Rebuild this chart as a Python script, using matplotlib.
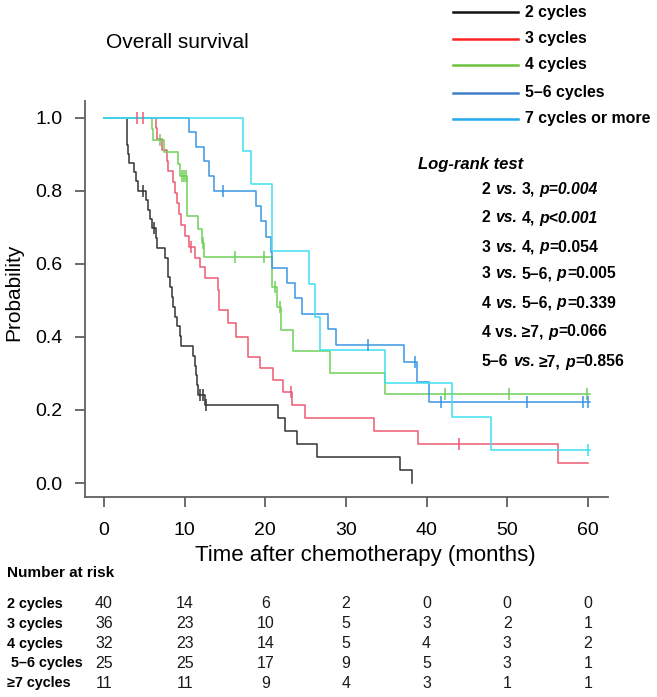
import matplotlib
matplotlib.use('Agg')
import matplotlib.pyplot as plt
import numpy as np
from matplotlib.lines import Line2D
from matplotlib.transforms import blended_transform_factory

plt.rcParams['font.family'] = ['Liberation Sans', 'DejaVu Sans']

# ---------------- data ----------------
group_labels = ['2 cycles', '3 cycles', '4 cycles', '5–6 cycles', '7 cycles or more']
risk_row_labels = ['2 cycles', '3 cycles', '4 cycles', ' 5–6 cycles', '≥7 cycles']

# event times (months) and survival after each event
t_2 = [2.8, 2.85, 2.9, 3.0, 3.05, 3.7, 4.0, 4.2, 5.2, 5.4, 5.7, 5.9, 6.5, 6.6, 7.6, 7.9,
       8.0, 8.2, 8.4, 8.6, 8.8, 9.0, 9.4, 9.6, 11.1, 11.25, 11.4, 11.55, 11.7, 12.5, 21.6,
       22.4, 23.9, 26.4, 36.7, 38.2]
s_2 = [0.975, 0.95, 0.925, 0.90, 0.875, 0.85, 0.825, 0.80, 0.774, 0.748, 0.723, 0.697,
       0.670, 0.643, 0.616, 0.589, 0.563, 0.536, 0.509, 0.482, 0.455, 0.429, 0.402, 0.375,
       0.348, 0.321, 0.295, 0.268, 0.241, 0.213, 0.178, 0.142, 0.107, 0.071, 0.036, 0.0]
c_2 = [4.8, 6.2, 11.9, 12.3, 12.7]
end_2 = 38.2

t_3 = [6.5, 6.6, 7.2, 7.8, 8.0, 8.6, 8.8, 9.1, 9.3, 9.6, 10.0, 10.5, 11.3, 11.9, 12.5,
       14.1, 14.3, 15.4, 16.4, 17.9, 19.3, 20.9, 22.2, 23.3, 24.9, 33.5, 39.0, 56.3]
s_3 = [0.971, 0.941, 0.912, 0.882, 0.853, 0.824, 0.794, 0.765, 0.735, 0.706, 0.676,
       0.647, 0.616, 0.592, 0.561, 0.528, 0.473, 0.437, 0.400, 0.346, 0.314, 0.282,
       0.250, 0.213, 0.177, 0.142, 0.107, 0.055]
c_3 = [4.1, 4.8, 10.8, 23.2, 44.0]
end_3 = 60.0

t_4 = [5.9, 6.1, 7.4, 9.2, 9.4, 10.3, 10.3, 10.3, 11.6, 12.1, 12.4, 20.8, 20.8, 21.4,
       21.9, 23.5, 28.0, 34.9]
s_4 = [0.969, 0.9375, 0.905, 0.873, 0.841, 0.805, 0.768, 0.731, 0.694, 0.658, 0.619,
       0.575, 0.537, 0.482, 0.420, 0.362, 0.302, 0.243]
c_4 = [6.9, 9.7, 9.95, 10.15, 12.3, 16.3, 19.8, 21.2, 21.8, 42.3, 50.2, 59.9]
end_4 = 60.3

t_56 = [10.5, 11.4, 12.4, 13.0, 13.6, 18.9, 19.5, 20.1, 20.7, 20.8, 22.7, 23.7, 24.5,
        27.8, 28.8, 37.2, 38.8, 40.3]
s_56 = [0.96, 0.92, 0.88, 0.84, 0.80, 0.758, 0.716, 0.674, 0.632, 0.589, 0.547, 0.505,
        0.463, 0.421, 0.379, 0.332, 0.277, 0.222]
c_56 = [14.7, 32.7, 38.6, 41.8, 52.5, 59.4, 60.0]
end_56 = 60.3

t_7 = [17.3, 18.2, 20.8, 20.8, 25.4, 26.2, 26.8, 34.9, 43.2, 48.0]
s_7 = [0.909, 0.818, 0.727, 0.636, 0.545, 0.455, 0.364, 0.273, 0.182, 0.091]
c_7 = [60.0]
end_7 = 60.3

risk_times = [0, 10, 20, 30, 40, 50, 60]
risk_2 = [40, 14, 6, 2, 0, 0, 0]
risk_3 = [36, 23, 10, 5, 3, 2, 1]
risk_4 = [32, 23, 14, 5, 4, 3, 2]
risk_56 = [25, 25, 17, 9, 5, 3, 1]
risk_7 = [11, 11, 9, 4, 3, 1, 1]

curve_colors = ['#333333', '#ee5a72', '#6fd05a', '#3a96e6', '#3fe0f0']
legend_colors = ['#111111', '#ff2222', '#6cc23a', '#3f7fc8', '#22aaee']

logrank_title = 'Log-rank test'
# (text, italic, gap-before in em)
logrank_lines = [
    [('2', 0, 0), ('vs.', 1, 0.278), ('3,', 0, 0.278), ('p=0.004', 1, 0.278)],
    [('2', 0, 0), ('vs.', 1, 0.278), ('4,', 0, 0.278), ('p<0.001', 1, 0.278)],
    [('3', 0, 0), ('vs.', 1, 0.278), ('4,', 0, 0.278), ('p', 1, 0.278), ('=0.054', 0, 0.04)],
    [('3', 0, 0), ('vs.', 1, 0.278), ('5–6,', 0, 0.278), ('p', 1, 0.278), ('=0.005', 0, 0.04)],
    [('4', 0, 0), ('vs.', 1, 0.278), ('5–6,', 0, 0.278), ('p', 1, 0.278), ('=0.339', 0, 0.04)],
    [('4 vs. ≥7,', 0, 0), ('p', 1, 0.278), ('=0.066', 0, 0.04)],
    [('5–6', 0, 0), ('vs.', 1, 0.278), ('≥7,', 0, 0.278), ('p', 1, 0.278), ('=0.856', 0, 0.04)],
]

# ---------------- figure ----------------
W, H = 657, 697
fig = plt.figure(figsize=(W / 100, H / 100), dpi=100)


def fx(px):
    return px / W


def fy(py):
    return 1 - py / H


ax = fig.add_axes([fx(85), fy(497), fx(608) - fx(85), fy(100.7) - fy(497)])
ax.set_xlim(-2.35, 62.5)
ax.set_ylim(-0.038, 1.046)

groups = [(t_2, s_2, c_2, end_2), (t_3, s_3, c_3, end_3), (t_4, s_4, c_4, end_4),
          (t_56, s_56, c_56, end_56), (t_7, s_7, c_7, end_7)]

for (t, s, c, end), col in zip(groups, curve_colors):
    tt = np.r_[0.0, t, end]
    ss = np.r_[1.0, s, s[-1]]
    ax.step(tt, ss, where='post', color=col, lw=1.1, zorder=3)
    ta = np.asarray(t)
    sa = np.r_[1.0, s]
    idx = np.searchsorted(ta, np.asarray(c), side='right')
    ax.plot(c, sa[idx], ls='none', marker='|', ms=8, mew=1.1, color=col, zorder=4)

for side in ['top', 'right']:
    ax.spines[side].set_visible(False)
for side in ['left', 'bottom']:
    ax.spines[side].set_color('#606060')
    ax.spines[side].set_linewidth(1.3)

ax.set_xticks(risk_times)
ax.set_yticks([0, 0.2, 0.4, 0.6, 0.8, 1.0])
ax.set_yticklabels(['0.0', '0.2', '0.4', '0.6', '0.8', '1.0'])
ax.tick_params(axis='both', length=7.5, width=1.3, color='#606060', labelsize=14)
ax.tick_params(axis='x', pad=10.5)
ax.tick_params(axis='y', pad=8.6)

fig.text(fx(14), fy(292), 'Probability', rotation=90, ha='center', va='center', fontsize=15)
fig.text(fx(365.5), fy(555), 'Time after chemotherapy (months)', ha='center', va='center',
         fontsize=16)
fig.text(fx(177), fy(42), 'Overall survival', ha='center', va='center', fontsize=15)

# legend
leg_y = [12, 39, 65, 93, 119]
for lab, col, y in zip(group_labels, legend_colors, leg_y):
    fig.add_artist(Line2D([fx(453), fx(518)], [fy(y), fy(y)], transform=fig.transFigure,
                          color=col, lw=1.8))
    fig.text(fx(525), fy(y), lab, ha='left', va='center', fontsize=11.4, fontweight='bold')

# log-rank text
fig.text(fx(418), fy(165), logrank_title, ha='left', va='center', fontsize=12,
         fontweight='bold', style='italic')
lr_y = [189, 218, 247, 274, 303, 332, 362]
size = 11.3
for segs, y in zip(logrank_lines, lr_y):
    prev = None
    for txt, it, gap in segs:
        st = 'italic' if it else 'normal'
        if prev is None:
            prev = fig.text(fx(482), fy(y), txt, ha='left', va='center', fontsize=size,
                            fontweight='bold', style=st)
        else:
            prev = ax.annotate(txt, xy=(1, 0), xycoords=prev, xytext=(gap * size, 0),
                               textcoords='offset points', ha='left', va='bottom',
                               fontsize=size, fontweight='bold', style=st,
                               annotation_clip=False)

# number at risk table
fig.text(fx(7), fy(573), 'Number at risk', ha='left', va='center', fontsize=11,
         fontweight='bold')
row_y = [604, 624, 644, 663, 683]
blend = blended_transform_factory(ax.transData, fig.transFigure)
for lab, vals, y in zip(risk_row_labels, [risk_2, risk_3, risk_4, risk_56, risk_7], row_y):
    fig.text(fx(7), fy(y), lab, ha='left', va='center', fontsize=10.4, fontweight='bold')
    for tx, v in zip(risk_times, vals):
        fig.text(tx, fy(y), str(v), transform=blend, ha='center', va='center',
                 fontsize=11.5, color='#1a1a1a')

fig.savefig('out.png', dpi=100)
